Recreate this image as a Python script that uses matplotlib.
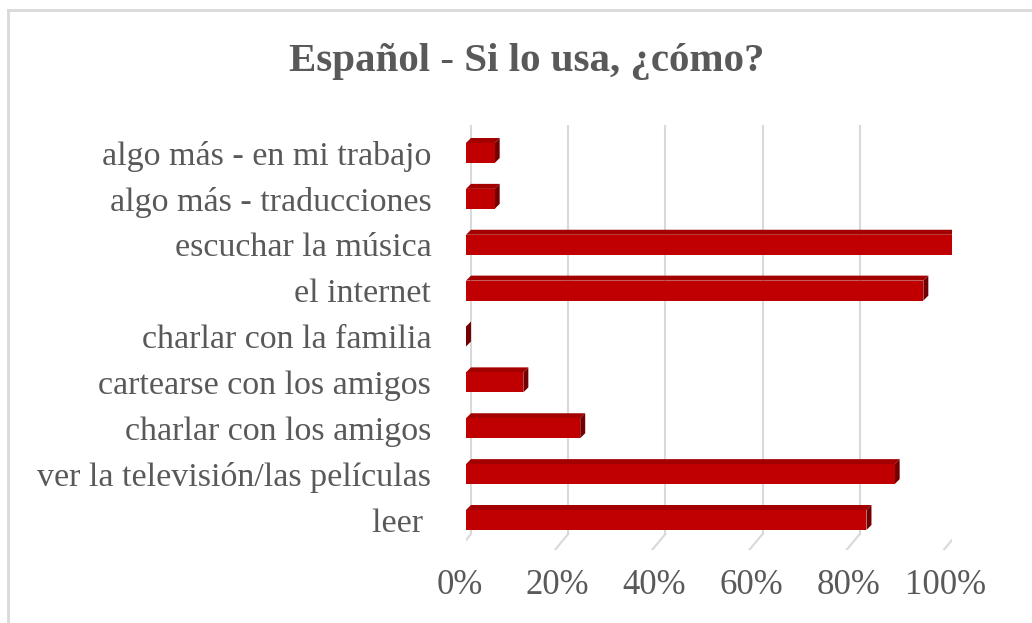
import numpy as np
import matplotlib.pyplot as plt
from matplotlib.patches import Polygon
from matplotlib.lines import Line2D

# survey answers, bottom row first (share of respondents, %)
categories = ['leer ', 'ver la televisión/las películas', 'charlar con los amigos',
              'cartearse con los amigos', 'charlar con la familia', 'el internet',
              'escuchar la música', 'algo más - traducciones', 'algo más - en mi trabajo']
values = [82.4, 88.2, 23.5, 11.8, 0.0, 94.1, 100.0, 5.9, 5.9]
ticks = [0, 20, 40, 60, 80, 100]
tick_labels = ['0%', '20%', '40%', '60%', '80%', '100%']

W, H = 1032, 623
fig = plt.figure(figsize=(W / 100, H / 100), dpi=100)
fig.patch.set_facecolor('white')

# axes box in pixels: x 466..952, y 125..550
ax_l, ax_r, ax_t, ax_b = 466, 952, 125, 550
ax = fig.add_axes([ax_l / W, 1 - ax_b / H, (ax_r - ax_l) / W, (ax_b - ax_t) / H])
row = 45.875  # px between bar centres
ax.set_xlim(0, 100)
ax.set_ylim(-(ax_b - 520) / row, (520 - ax_t) / row)
for s in ax.spines.values():
    s.set_visible(False)
ax.set_facecolor('none')

# pixel -> data helpers for the 3d depth
px_x = 100 / (ax_r - ax_l)
px_y = 1 / row
dx, dy = 5 * px_x, 5 * px_y

grey = '#595959'
serif = 'Liberation Serif'

# back wall gridlines with the little floor diagonal
floor_back = -14 * px_y
for t, lab in zip(ticks, tick_labels):
    gx = t + dx
    ax.add_line(Line2D([gx, gx], [floor_back, ax.get_ylim()[1]], color='#d9d9d9', lw=1.5, zorder=0))
    ax.add_line(Line2D([gx, gx - 15 * px_x], [floor_back, floor_back - 18 * px_y],
                       color='#d9d9d9', lw=1.5, zorder=0))
    ax.text(t - 6 * px_x, -65 * px_y, lab, ha='center', va='center',
            fontsize=25, color=grey, family=serif, clip_on=False)

# bars: front face + top + right side
h = 20 * px_y
y = np.arange(len(categories))
ax.barh(y, values, height=h, color='#c00000', zorder=3)
for yi, v in zip(y, values):
    top = [(0, yi + h / 2), (v, yi + h / 2), (v + dx, yi + h / 2 + dy), (dx, yi + h / 2 + dy)]
    side = [(v, yi - h / 2), (v + dx, yi - h / 2 + dy), (v + dx, yi + h / 2 + dy), (v, yi + h / 2)]
    ax.add_patch(Polygon(top, closed=True, facecolor='#a30000', edgecolor='none', zorder=2))
    ax.add_patch(Polygon(side, closed=True, facecolor='#730000', edgecolor='none', zorder=2))

ax.set_xticks([])
ax.set_yticks(y)
ax.set_yticklabels(categories, fontsize=24.5, color=grey, family=serif)
ax.tick_params(axis='y', length=0, pad=25)

fig.text(527 / W, 1 - 62 / H, 'Español - Si lo usa, ¿cómo?', ha='center', va='center',
         fontsize=29.5, weight='bold', color=grey, family=serif)

# chart area border (left and top edges)
fig.add_artist(Line2D([8 / W, 8 / W], [0, 1 - 10 / H], transform=fig.transFigure, color='#d9d9d9', lw=2))
fig.add_artist(Line2D([8 / W, 1], [1 - 10 / H, 1 - 10 / H], transform=fig.transFigure, color='#d9d9d9', lw=2))

fig.savefig('out.png', dpi=100)
